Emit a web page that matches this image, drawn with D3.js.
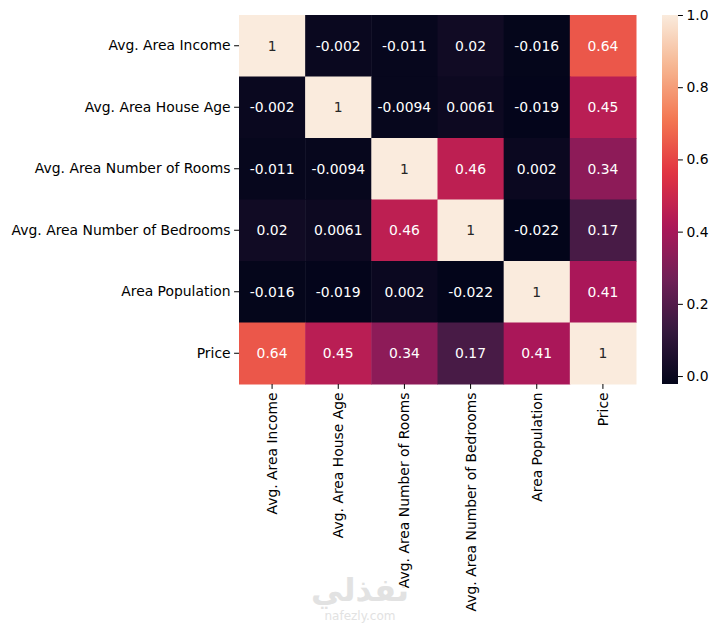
<!DOCTYPE html>
<html><head><meta charset="utf-8">
<script src="https://cdn.jsdelivr.net/npm/d3@7"></script>
<style>body{margin:0;background:#fff}svg{display:block}text{font-family:"DejaVu Sans",sans-serif}</style>
</head><body><svg id="c" width="720" height="624"></svg>
<script>
const labels = ["Avg. Area Income","Avg. Area House Age","Avg. Area Number of Rooms","Avg. Area Number of Bedrooms","Area Population","Price"];
const row0 = [1, -0.002, -0.011, 0.02, -0.016, 0.64];
const row1 = [-0.002, 1, -0.0094, 0.0061, -0.019, 0.45];
const row2 = [-0.011, -0.0094, 1, 0.46, 0.002, 0.34];
const row3 = [0.02, 0.0061, 0.46, 1, -0.022, 0.17];
const row4 = [-0.016, -0.019, 0.002, -0.022, 1, 0.41];
const row5 = [0.64, 0.45, 0.34, 0.17, 0.41, 1];
const rows = [row0,row1,row2,row3,row4,row5];
const cbTicks = [0, 0.2, 0.4, 0.6, 0.8, 1.0];

const rocketStops = ["#03051a","#35193e","#701f57","#ad1759","#e13342","#f37651","#f6b48f","#faebdd"];
const rocketPos = [0,1/7,2/7,3/7,4/7,5/7,6/7,1];
const rocket = d3.scaleLinear().domain(rocketPos).range(rocketStops).interpolate(d3.interpolateRgb).clamp(true);
const vmin = d3.min(rows.flat()), vmax = d3.max(rows.flat());
const norm = d3.scaleLinear().domain([vmin, vmax]).range([0,1]);
const color = v => rocket(norm(v));

const FS = 13.9;
const svg = d3.select("#c");
const L = 239, R = 636, T = 15, B = 384;
const x = d3.scaleBand().domain(labels).range([L,R]);
const y = d3.scaleBand().domain(labels).range([T,B]);

const cells = [];
rows.forEach((r,i)=>r.forEach((v,j)=>cells.push({r:labels[i],c:labels[j],v})));

svg.append("g").selectAll("rect").data(cells).join("rect")
  .attr("x",d=>x(d.c)).attr("y",d=>y(d.r))
  .attr("width",x.bandwidth()+0.5).attr("height",y.bandwidth()+0.5)
  .attr("fill",d=>color(d.v));

function lum(c){
  const rgb=d3.rgb(c);
  const f=u=>{u/=255;return u<=0.03928?u/12.92:Math.pow((u+0.055)/1.055,2.4);};
  return 0.2126*f(rgb.r)+0.7152*f(rgb.g)+0.0722*f(rgb.b);
}
svg.append("g").selectAll("text").data(cells).join("text")
  .attr("x",d=>x(d.c)+x.bandwidth()/2).attr("y",d=>y(d.r)+y.bandwidth()/2)
  .attr("text-anchor","middle").attr("dominant-baseline","central")
  .attr("font-size",FS)
  .attr("fill",d=>lum(color(d.v))>0.408?"#262626":"#ffffff")
  .text(d=>String(d.v));

const yAxis = svg.append("g").attr("transform",`translate(${L},0)`)
  .call(d3.axisLeft(y).tickSize(4.9).tickPadding(3.5));
yAxis.select(".domain").remove();
yAxis.selectAll("text").attr("font-size",FS).attr("fill","#000").style("font-family","DejaVu Sans");

const xAxis = svg.append("g").attr("transform",`translate(0,${B})`)
  .call(d3.axisBottom(x).tickSize(4.9).tickPadding(3.5));
xAxis.select(".domain").remove();
xAxis.selectAll("text").attr("font-size",FS).attr("fill","#000").style("font-family","DejaVu Sans")
  .attr("text-anchor","end").attr("dy",null).attr("dominant-baseline","central")
  .attr("transform","rotate(-90)").attr("x",-8.4).attr("y",0);

// colorbar
const cbL = 662, cbW = 16;
const cy = d3.scaleLinear().domain([vmin,vmax]).range([B,T]);
const defs = svg.append("defs");
const grad = defs.append("linearGradient").attr("id","g").attr("x1",0).attr("y1",1).attr("x2",0).attr("y2",0);
d3.range(0,1.0001,0.02).forEach(t=>grad.append("stop").attr("offset",t).attr("stop-color",rocket(t)));
svg.append("rect").attr("x",cbL).attr("y",T).attr("width",cbW).attr("height",B-T).attr("fill","url(#g)");
const cAxis = svg.append("g").attr("transform",`translate(${cbL+cbW},0)`)
  .call(d3.axisRight(cy).tickValues(cbTicks).tickFormat(d3.format(".1f")).tickSize(4.9).tickPadding(3.5));
cAxis.select(".domain").remove();
cAxis.selectAll("text").attr("font-size",FS).attr("fill","#000").style("font-family","DejaVu Sans");

// watermark
svg.append("text").attr("x",360).attr("y",601).attr("text-anchor","middle")
  .attr("font-size",32).attr("font-weight","bold").attr("fill","#e2e2e2").text("نفذلي");
svg.append("text").attr("x",360).attr("y",620).attr("text-anchor","middle")
  .attr("font-size",12).attr("fill","#e2e2e2").text("nafezly.com");
</script></body></html>
